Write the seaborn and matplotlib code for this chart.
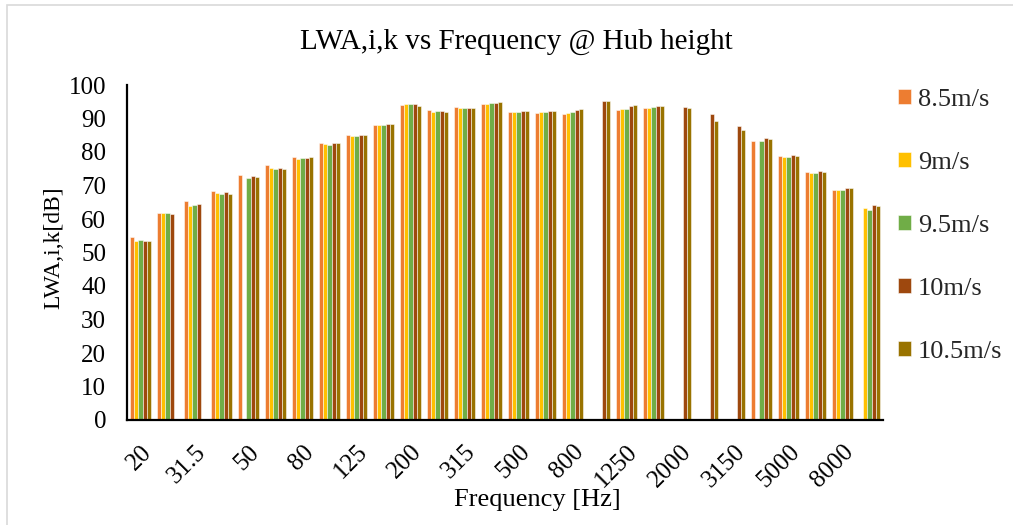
import numpy as np
import pandas as pd
import matplotlib
matplotlib.use("Agg")
import matplotlib.pyplot as plt
from matplotlib.patches import Rectangle
import seaborn as sns

nan = np.nan

# One-third octave band centre frequencies [Hz]
freqs = ["20", "25", "31.5", "40", "50", "63", "80", "100", "125", "160",
         "200", "250", "315", "400", "500", "630", "800", "1000", "1250",
         "1600", "2000", "2500", "3150", "4000", "5000", "6300", "8000", "10000"]

speeds = ["8.5m/s", "9m/s", "9.5m/s", "10m/s", "10.5m/s"]

# Sound power level LWA,i,k [dB] per wind speed
lwa_85 = [54.7, 61.9, 65.3, 68.4, 73.0, 76.1, 78.6, 82.6, 85.0, 88.0, 93.9, 92.4, 93.5, 94.3,
          91.9, 91.7, 91.3, nan, 92.4, 93.1, nan, nan, nan, 83.4, 78.8, 73.9, 68.6, nan]
lwa_90 = [53.5, 61.9, 64.0, 67.9, nan, 75.1, 78.0, 82.3, 84.7, 88.0, 94.2, 91.9, 93.0, 94.3,
          91.9, 91.9, 91.6, nan, 92.8, 93.1, nan, nan, nan, nan, 78.4, 73.6, 68.8, 63.2]
lwa_95 = [53.7, 61.7, 64.2, 67.6, 72.1, 74.9, 78.2, 82.2, 84.9, 88.2, 94.2, 92.2, 93.2, 94.6,
          91.9, 91.9, 92.0, nan, 92.8, 93.4, nan, nan, nan, 83.4, 78.6, 73.8, 68.8, 62.6]
lwa_100 = [53.5, 61.5, 64.4, 68.1, 72.7, 75.1, 78.2, 82.6, 85.0, 88.4, 94.2, 92.2, 93.2, 94.6,
           92.1, 92.1, 92.6, 95.3, 93.6, 93.7, 93.5, 91.3, 87.8, 84.1, 79.2, 74.4, 69.4, 64.2]
lwa_105 = [53.5, nan, nan, 67.6, 72.4, 74.9, 78.4, 82.6, 85.1, 88.4, 93.6, 92.0, 93.2, 94.9,
           92.1, 92.2, 92.8, 95.3, 94.0, 93.7, 93.1, 89.2, 86.7, 83.8, 78.7, 74.1, 69.2, 63.8]

colors = ["#ED7D31", "#FFC000", "#70AD47", "#9E480E", "#997300"]

series = [lwa_85, lwa_90, lwa_95, lwa_100, lwa_105]
df = pd.concat(
    [pd.DataFrame({"freq": freqs, "speed": s, "lwa": v}) for s, v in zip(speeds, series)],
    ignore_index=True,
)
df["freq"] = pd.Categorical(df["freq"], categories=freqs, ordered=True)

sns.set_theme(style="white")
plt.rcParams["font.family"] = ["Liberation Serif", "DejaVu Serif"]

W, H = 1013, 525
fig = plt.figure(figsize=(W / 100, H / 100), dpi=100)
ax = fig.add_axes([127 / W, 1 - 420 / H, (883 - 127) / W, (420 - 85) / H])

sns.barplot(data=df, x="freq", y="lwa", hue="speed", hue_order=speeds,
            order=freqs, palette=colors, width=0.8, errorbar=None,
            saturation=1, ax=ax, edgecolor=(1, 1, 1, 0.6), linewidth=0.6,
            legend=True)

ax.set_ylim(0, 100)
ax.set_xlim(-0.5, len(freqs) - 0.5)
ax.set_yticks(range(0, 101, 10))
ax.set_xticks(range(0, len(freqs), 2))
ax.set_xticklabels(freqs[::2], rotation=45, ha="right", va="top",
                   rotation_mode="anchor")
ax.tick_params(axis="y", length=0, pad=15, labelsize=18, colors="black")
ax.tick_params(axis="x", length=0, pad=15, labelsize=18, colors="black")

for side in ["top", "right"]:
    ax.spines[side].set_visible(False)
for side in ["left", "bottom"]:
    ax.spines[side].set_color("black")
    ax.spines[side].set_linewidth(1.6)

ax.set_xlabel("")
ax.set_ylabel("")
fig.text(54 / W, 1 - 248 / H, "LWA,i,k[dB]", rotation=90, ha="center",
         va="center", fontsize=17, color="black")
fig.text(537 / W, 1 - 500 / H, "Frequency [Hz]", ha="center", va="center",
         fontsize=19, color="black")
fig.text(516 / W, 1 - 42 / H, "LWA,i,k vs Frequency @ Hub height",
         ha="center", va="center", fontsize=21, color="black")

handles, labels = ax.get_legend_handles_labels()
ax.legend(handles, labels, loc="upper left",
          bbox_to_anchor=(898 / W, 1 - 89 / H), bbox_transform=fig.transFigure,
          frameon=False, fontsize=19, handlelength=0.5, handleheight=0.5,
          handletextpad=0.25, labelspacing=1.55, borderaxespad=0, borderpad=0)

# light chart-area border
fig.patches.append(Rectangle((7 / W, -0.2), 1.5, 1 - 5 / H + 0.2,
                             transform=fig.transFigure, fill=False,
                             edgecolor="#D9D9D9", linewidth=1.2))

fig.savefig("out.png", dpi=100, facecolor="white")
